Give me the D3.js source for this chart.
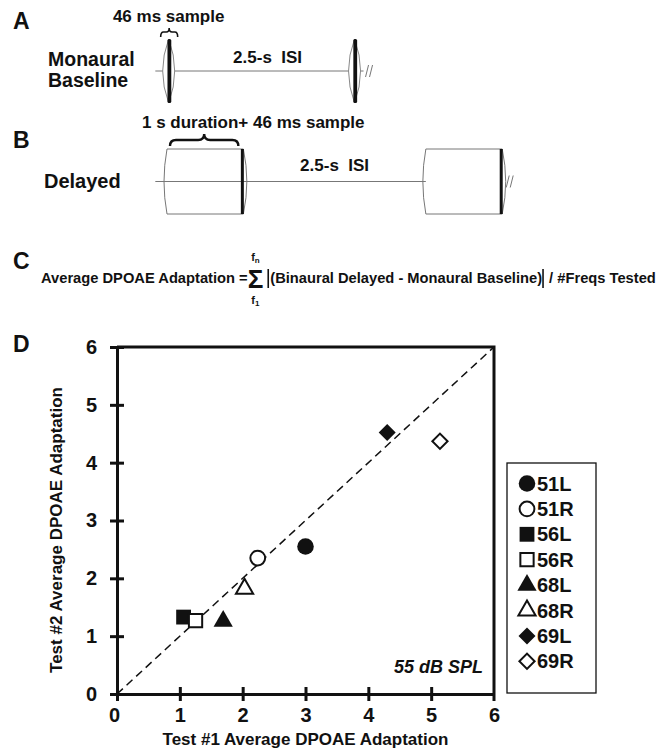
<!DOCTYPE html>
<meta charset="utf-8">
<style>
body { margin: 0; background: #fff; }
svg text { font-family: "Liberation Sans", Arial, Helvetica, sans-serif; font-weight: bold; fill: #111; }
</style>
<svg width="669" height="748"></svg>
<script src="https://d3js.org/d3.v7.min.js"></script>
<script>

// timing of the stimulus schematics (seconds)
var sampleDur = 0.046,
    adaptDur = 1.0,
    isiDur = 2.5;

// panel D : average DPOAE adaptation, test 1 vs test 2
var ears   = ["51L", "51R", "56L", "56R", "68L", "68R", "69L", "69R"];
var test1  = [3.00, 2.24, 1.06, 1.25, 1.69, 2.03, 4.30, 5.14];
var test2  = [2.55, 2.35, 1.33, 1.27, 1.26, 1.82, 4.52, 4.37];
var shapes = ["circle", "circle", "square", "square", "triangle", "triangle", "diamond", "diamond"];
var filled = [true, false, true, false, true, false, true, false];
var axisTicks = [0, 1, 2, 3, 4, 5, 6];

var svg = d3.select("svg");

// one shared time axis for A and B
var tx = d3.scaleLinear().domain([0, 1]).range([167, 240]);

function brace(x0, x1, yTip, yMid, yPeak) {
  var xm = (x0 + x1) / 2, r = Math.min(6, (x1 - x0) / 6);
  return "M" + x0 + "," + yTip +
    "Q" + x0 + "," + yMid + " " + (x0 + r) + "," + yMid +
    "L" + (xm - r) + "," + yMid +
    "Q" + xm + "," + yMid + " " + xm + "," + yPeak +
    "Q" + xm + "," + yMid + " " + (xm + r) + "," + yMid +
    "L" + (x1 - r) + "," + yMid +
    "Q" + x1 + "," + yMid + " " + x1 + "," + yTip;
}

function breakMark(g, x, y) {
  g.append("path")
      .attr("d", "M" + x + "," + (y + 6) + "L" + (x + 3) + "," + (y - 6) +
                 "M" + (x + 4) + "," + (y + 6) + "L" + (x + 7) + "," + (y - 6))
      .attr("stroke", "#777").attr("stroke-width", 1).attr("fill", "none");
}

function label(t, x, y, size) {
  svg.append("text").attr("x", x).attr("y", y).attr("font-size", size).text(t);
}

// ---------- A : monaural baseline ----------
var gA = svg.append("g");
var yA = 71;
label("A", 13, 29, 23);
label("Monaural", 48, 66, 19.5);
label("Baseline", 48, 87, 19.5);

var lensT = [sampleDur / 2, sampleDur + isiDur + sampleDur / 2];
gA.append("line")
    .attr("x1", tx(-0.16)).attr("x2", tx(lensT[1]) + 9)
    .attr("y1", yA).attr("y2", yA)
    .attr("stroke", "#777").attr("stroke-width", 1);

lensT.forEach(function(t) {
  var cx = tx(t);
  gA.append("path")
      .attr("d", "M" + cx + "," + (yA - 32) + "Q" + (cx - 12) + "," + yA + " " + cx + "," + (yA + 32) +
                 "Q" + (cx + 12) + "," + yA + " " + cx + "," + (yA - 32) + "Z")
      .attr("fill", "#fff").attr("stroke", "#888").attr("stroke-width", 1);
  gA.append("rect")
      .attr("x", cx - 1.2).attr("y", yA - 32).attr("width", 3.8).attr("height", 64)
      .attr("rx", 1.6).attr("fill", "#111");
});
breakMark(gA, tx(lensT[1]) + 11, yA);

gA.append("path")
    .attr("d", brace(tx(lensT[0]) - 8, tx(lensT[0]) + 9, 37, 32, 28))
    .attr("fill", "none").attr("stroke", "#111").attr("stroke-width", 1.6);
gA.append("text").attr("x", tx(lensT[0])).attr("y", 22).attr("font-size", 17)
    .attr("text-anchor", "middle").text("46 ms sample");
gA.append("text").attr("x", (tx(lensT[0]) + tx(lensT[1])) / 2 + 6).attr("y", 63).attr("font-size", 17)
    .attr("text-anchor", "middle").style("white-space", "pre").text("2.5-s  ISI");

// ---------- B : delayed ----------
var gB = svg.append("g");
var yB = 181.5, boxTop = 149, boxBot = 214;
label("B", 13, 148, 23);
label("Delayed", 44, 188, 20);

var boxes = [[0, adaptDur + sampleDur], [adaptDur + sampleDur + isiDur, 2 * (adaptDur + sampleDur) + isiDur]];
gB.append("line")
    .attr("x1", tx(-0.16)).attr("x2", tx(boxes[1][0]))
    .attr("y1", yB).attr("y2", yB)
    .attr("stroke", "#777").attr("stroke-width", 1);

boxes.forEach(function(b) {
  var x0 = tx(b[0]), x1 = tx(b[1]);
  gB.append("path")
      .attr("d", "M" + x0 + "," + boxTop + "Q" + (x0 - 6) + "," + yB + " " + x0 + "," + boxBot +
                 "L" + x1 + "," + boxBot + "M" + x0 + "," + boxTop + "L" + x1 + "," + boxTop +
                 "M" + x1 + "," + boxTop + "Q" + (x1 + 7) + "," + yB + " " + x1 + "," + boxBot)
      .attr("fill", "none").attr("stroke", "#777").attr("stroke-width", 1);
  gB.append("line")
      .attr("x1", x1 - 1).attr("x2", x1 - 1).attr("y1", boxTop).attr("y2", boxBot)
      .attr("stroke", "#111").attr("stroke-width", 3);
});
breakMark(gB, tx(boxes[1][1]) + 4, yB);

gB.append("path")
    .attr("d", brace(tx(0) + 3, tx(adaptDur + sampleDur) - 5, 146, 140, 134))
    .attr("fill", "none").attr("stroke", "#111").attr("stroke-width", 2.4);
gB.append("text").attr("x", 142).attr("y", 128).attr("font-size", 17).text("1 s duration+ 46 ms sample");
gB.append("text").attr("x", (tx(boxes[0][1]) + tx(boxes[1][0])) / 2).attr("y", 171).attr("font-size", 17)
    .attr("text-anchor", "middle").style("white-space", "pre").text("2.5-s  ISI");

// ---------- C : formula ----------
label("C", 13, 269, 23);
var gC = svg.append("g"), yC = 283, cx = 41, fs = 14.7;
function piece(t, size, weight) {
  var el = gC.append("text").attr("x", cx).attr("y", yC).attr("font-size", size)
      .style("white-space", "pre").text(t);
  if (weight) el.attr("font-weight", weight);
  var w = el.node().getComputedTextLength();
  cx += w;
  return { el: el, x: cx - w, w: w };
}
piece("Average DPOAE Adaptation =", fs);
var sig = piece("\u03A3", 26, "normal");
sig.el.attr("y", yC + 5);
var sx = sig.x + sig.w / 2;
var fn = gC.append("text").attr("x", sx).attr("y", 261).attr("font-size", 11).attr("text-anchor", "middle");
fn.append("tspan").text("f");
fn.append("tspan").attr("font-size", 8).attr("dy", 2).text("n");
var f1 = gC.append("text").attr("x", sx).attr("y", 304).attr("font-size", 11).attr("text-anchor", "middle");
f1.append("tspan").text("f");
f1.append("tspan").attr("font-size", 8).attr("dy", 2).text("1");
cx += 4;
function bar() {
  gC.append("line").attr("x1", cx + 1).attr("x2", cx + 1).attr("y1", yC - 14).attr("y2", yC + 5)
      .attr("stroke", "#111").attr("stroke-width", 1.6);
  cx += 3;
}
bar();
piece("(Binaural Delayed - Monaural Baseline)", fs);
bar();
piece(" / #Freqs Tested", fs);

// ---------- D : test-retest scatter ----------
label("D", 13, 352, 23);
var x = d3.scaleLinear().domain([0, 6]).range([117, 494]),
    y = d3.scaleLinear().domain([0, 6]).range([694, 347]);

var xAxis = svg.append("g")
    .attr("transform", "translate(0," + y(0) + ")")
    .call(d3.axisBottom(x).tickValues(axisTicks).tickFormat(d3.format("d"))
      .tickSize(7).tickSizeOuter(0).tickPadding(7));
xAxis.selectAll(".tick line").attr("y1", -7);

var yAxis = svg.append("g")
    .attr("transform", "translate(" + x(0) + ",0)")
    .call(d3.axisLeft(y).tickValues(axisTicks).tickFormat(d3.format("d"))
      .tickSize(7).tickSizeOuter(0).tickPadding(13));
yAxis.selectAll(".tick line").attr("x1", 7);

[xAxis, yAxis].forEach(function(a) {
  a.select(".domain").attr("stroke", "#111").attr("stroke-width", 3);
  a.selectAll(".tick line").attr("stroke", "#111").attr("stroke-width", 3);
  a.selectAll(".tick text").attr("font-size", 20).attr("font-family", null).attr("fill", "#111");
});
xAxis.selectAll(".tick text").filter(function(d) { return d === 0; }).attr("dx", -3);
xAxis.select(".tick:last-of-type line").remove();

// frame top and right
svg.append("path")
    .attr("d", "M" + x(0) + "," + y(6) + "H" + x(6) + "V" + y(0))
    .attr("fill", "none").attr("stroke", "#111").attr("stroke-width", 3);
svg.append("line")
    .attr("x1", x(6)).attr("x2", x(6)).attr("y1", y(0)).attr("y2", y(0) + 7)
    .attr("stroke", "#111").attr("stroke-width", 3);

// unity line
svg.append("line")
    .attr("x1", x(0)).attr("y1", y(0)).attr("x2", x(6)).attr("y2", y(6))
    .attr("stroke", "#111").attr("stroke-width", 1.5).attr("stroke-dasharray", "8,5");

var symType = { circle: d3.symbolCircle, square: d3.symbolSquare, triangle: d3.symbolTriangle, diamond: d3.symbolSquare };
var symSize = { circle: 215, square: 220, triangle: 160, diamond: 145 };
function marker(sel, i) {
  var s = shapes[i], area = filled[i] ? symSize[s] : symSize[s] * 0.8;
  sel.attr("d", d3.symbol().type(symType[s]).size(area)())
     .attr("fill", filled[i] ? "#111" : "#fff")
     .attr("stroke", "#111")
     .attr("stroke-width", filled[i] ? 0 : 2);
}

svg.append("g").selectAll("path")
  .data(ears)
  .enter().append("path")
    .attr("transform", function(d, i) {
      return "translate(" + x(test1[i]) + "," + y(test2[i]) + ")" + (shapes[i] === "diamond" ? " rotate(45)" : "");
    })
    .each(function(d, i) { marker(d3.select(this), i); });

svg.append("text")
    .attr("x", 483).attr("y", 673).attr("font-size", 18).attr("font-style", "italic")
    .attr("text-anchor", "end").text("55 dB SPL");

svg.append("text")
    .attr("x", (x(0) + x(6)) / 2).attr("y", 745).attr("font-size", 17)
    .attr("text-anchor", "middle").text("Test #1 Average DPOAE Adaptation");
svg.append("text")
    .attr("transform", "translate(62," + 530 + ") rotate(-90)").attr("font-size", 17)
    .attr("text-anchor", "middle").text("Test #2 Average DPOAE Adaptation");

// legend
var legend = svg.append("g");
legend.append("rect")
    .attr("x", 507).attr("y", 463).attr("width", 89).attr("height", 230)
    .attr("fill", "none").attr("stroke", "#111").attr("stroke-width", 1.3);
var row = legend.selectAll("g.row")
  .data(ears)
  .enter().append("g")
    .attr("class", "row")
    .attr("transform", function(d, i) { return "translate(527," + (483.5 + i * 25.4) + ")"; });
row.append("path")
    .attr("transform", function(d, i) { return shapes[i] === "diamond" ? "rotate(45)" : null; })
    .each(function(d, i) { marker(d3.select(this), i); });
row.append("text")
    .attr("x", 10).attr("y", 7).attr("font-size", 20)
    .text(function(d) { return d; });

</script>
